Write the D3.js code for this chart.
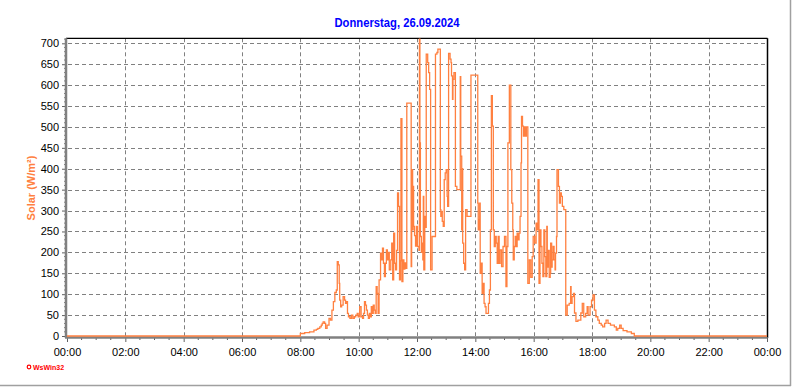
<!DOCTYPE html>
<html>
<head>
<meta charset="utf-8">
<script src="https://cdn.jsdelivr.net/npm/d3@7"></script>
<style>
  body { margin: 0; background: #fff; }
  svg { display: block; }
  text { font-family: Arial, "Liberation Sans", sans-serif; }
</style>
</head>
<body>
<svg id="chart" width="792" height="387"></svg>
<script>
// Solar radiation, 26.09.2024 (times as HH:MM, values in W/m²)
const times = [
  "00:00","07:59","08:00","08:09","08:19","08:26","08:28","08:33","08:36","08:40",
  "08:43","08:45","08:47","08:50","08:52","08:55","08:59","09:02","09:05","09:08",
  "09:11","09:14","09:16","09:18","09:20","09:21","09:23","09:25","09:28","09:31",
  "09:33","09:35","09:37","09:39","09:42","09:45","09:48","09:51","09:54","09:57",
  "09:59","10:02","10:05","10:08","10:10","10:12","10:14","10:16","10:18","10:20",
  "10:22","10:24","10:26","10:28","10:30","10:32","10:34","10:36","10:38","10:40",
  "10:42","10:45","10:47","10:49","10:51","10:53","10:55","10:57","10:59","11:01",
  "11:03","11:06","11:08","11:10","11:12","11:14","11:16","11:18","11:20","11:22",
  "11:24","11:26","11:27","11:29","11:31","11:33","11:35","11:37","11:39","11:47",
  "11:48","11:49","11:51","11:52","11:53","11:55","11:57","11:59","12:01","12:04",
  "12:05","12:06","12:07","12:09","12:11","12:12","12:13","12:14","12:16","12:18",
  "12:19","12:22","12:24","12:26","12:28","12:31","12:37","12:38","12:41","12:43",
  "12:47","12:48","12:49","12:50","12:52","12:54","12:56","12:58","13:00","13:02",
  "13:03","13:05","13:08","13:10","13:11","13:13","13:14","13:16","13:19","13:22",
  "13:27","13:29","13:30","13:32","13:33","13:34","13:36","13:38","13:40","13:43",
  "13:50","13:51","14:04","14:05","14:06","14:08","14:09","14:10","14:12","14:14",
  "14:16","14:18","14:20","14:22","14:25","14:27","14:29","14:31","14:33","14:35",
  "14:37","14:39","14:41","14:43","14:45","14:47","14:49","14:51","14:54","14:57",
  "15:00","15:03","15:05","15:07","15:10","15:12","15:13","15:15","15:17","15:18",
  "15:20","15:22","15:24","15:26","15:28","15:30","15:32","15:34","15:35","15:37",
  "15:39","15:41","15:43","15:45","15:47","15:48","15:51","15:54","15:57","15:59",
  "16:02","16:05","16:07","16:09","16:11","16:13","16:15","16:17","16:19","16:21",
  "16:23","16:25","16:27","16:28","16:30","16:32","16:34","16:35","16:37","16:38",
  "16:40","16:42","16:44","16:45","16:47","16:48","16:51","16:53","16:55","16:57",
  "16:59","17:02","17:05","17:06","17:09","17:13","17:16","17:17","17:19","17:22",
  "17:24","17:27","17:31","17:37","17:40","17:43","17:47","17:50","17:52","17:56",
  "17:59","18:02","18:05","18:08","18:12","18:15","18:19","18:22","18:26","18:29",
  "18:33","18:38","18:46","18:50","18:53","18:57","19:00","19:04","19:12","19:21",
  "19:27","24:00"
]
const solar = [
  0,0,6,8,10,10,14,16,18,22,
  26,30,34,30,18,26,42,38,62,82,
  104,110,178,170,126,86,70,74,94,86,
  78,82,54,46,42,50,42,46,50,54,
  46,70,46,42,54,82,74,62,50,42,
  54,46,70,54,74,62,54,118,102,54,
  134,198,182,210,174,142,174,206,182,200,
  158,182,222,134,246,174,158,205,342,310,
  134,180,520,130,182,160,175,162,557,557,
  166,398,254,358,262,240,215,262,214,205,
  710,462,238,200,222,182,334,158,286,260,
  674,654,630,590,158,238,238,674,678,686,
  686,302,286,298,274,262,374,390,398,334,
  310,676,662,654,622,566,614,630,358,350,
  350,620,430,254,400,222,174,158,302,286,
  286,624,624,318,254,278,318,150,174,102,
  126,78,70,54,54,78,110,254,575,502,
  254,214,238,222,174,238,174,206,166,214,
  238,118,214,462,600,600,398,318,254,182,
  214,238,214,246,230,246,286,414,525,502,
  478,500,478,500,500,126,182,140,190,238,
  222,270,254,374,126,254,214,174,142,254,
  190,142,262,165,205,140,150,222,165,182,
  214,182,158,198,238,398,358,318,342,334,
  310,302,302,50,74,78,118,78,94,102,
  55,35,38,55,78,46,54,70,50,70,
  86,98,62,46,38,30,26,22,30,38,
  30,26,22,14,18,26,18,13,10,6,
  0,0
]
const yTicks = [0,50,100,150,200,250,300,350,400,450,500,550,600,650,700]
const xTickLabels = ["00:00","02:00","04:00","06:00","08:00","10:00","12:00",
                     "14:00","16:00","18:00","20:00","22:00","00:00"]

const toMin = (s) => { const p = s.split(":"); return +p[0] * 60 + +p[1] }
const data = times.map((t, i) => ({ t: toMin(t), v: solar[i] }))

const svg = d3.select("#chart")
const x = d3.scaleLinear().domain([0, 1440]).range([67, 767])
const y = d3.scaleLinear().domain([0, 700]).range([336, 43.3])
const yTop = y(712)

// outer frame (right and bottom edge)
svg.append("line").attr("x1", 790.5).attr("x2", 790.5).attr("y1", 0).attr("y2", 386)
  .attr("stroke", "#a0a0a0").attr("stroke-width", 1.5)
svg.append("line").attr("x1", 0).attr("x2", 791).attr("y1", 385.5).attr("y2", 385.5)
  .attr("stroke", "#a0a0a0").attr("stroke-width", 1.5)

// grid
const grid = svg.append("g").attr("stroke", "#808080").attr("stroke-dasharray", "4,3")
grid.selectAll(".hg").data(yTicks.slice(1)).enter().append("line")
  .attr("x1", 68).attr("x2", 767)
  .attr("y1", (d) => Math.round(y(d)) + 0.5).attr("y2", (d) => Math.round(y(d)) + 0.5)
grid.selectAll(".vg").data(d3.range(120, 1440, 120)).enter().append("line")
  .attr("y1", yTop).attr("y2", 336)
  .attr("x1", (d) => Math.round(x(d)) + 0.5).attr("x2", (d) => Math.round(x(d)) + 0.5)

// top and right border
svg.append("line").attr("x1", 66).attr("x2", 767.5).attr("y1", yTop).attr("y2", yTop)
  .attr("stroke", "#000").attr("stroke-width", 1.2)
svg.append("line").attr("x1", 767.5).attr("x2", 767.5).attr("y1", yTop).attr("y2", 338)
  .attr("stroke", "#000").attr("stroke-width", 1.5)

// x axis
const xAxis = svg.append("g").attr("transform", "translate(0,337)")
  .call(d3.axisBottom(x).tickValues(d3.range(0, 1441, 120))
    .tickFormat((d, i) => xTickLabels[i]).tickSize(5).tickPadding(6))
xAxis.select(".domain").remove()
xAxis.selectAll(".tick line").attr("stroke", "#606060")
xAxis.selectAll("text").attr("font-size", 11).attr("fill", "#000")
xAxis.selectAll(".minor").data(d3.range(30, 1440, 30).filter((d) => d % 120 !== 0))
  .enter().append("line").attr("class", "minor")
  .attr("x1", (d) => x(d)).attr("x2", (d) => x(d)).attr("y1", 0).attr("y2", 3)
  .attr("stroke", "#606060")
svg.append("line").attr("x1", 65).attr("x2", 767).attr("y1", 337.5).attr("y2", 337.5)
  .attr("stroke", "#808080").attr("stroke-width", 2.5)

// y axis
const yAxis = svg.append("g").attr("transform", "translate(66,0)")
  .call(d3.axisLeft(y).tickValues(yTicks).tickSize(4).tickPadding(3))
yAxis.select(".domain").remove()
yAxis.selectAll(".tick line").attr("stroke", "#606060")
yAxis.selectAll("text").attr("font-size", 11).attr("fill", "#000")
yAxis.selectAll(".minor").data(d3.range(10, 711, 10).filter((d) => d % 50 !== 0))
  .enter().append("line").attr("class", "minor")
  .attr("y1", (d) => y(d)).attr("y2", (d) => y(d)).attr("x1", 0).attr("x2", -2)
  .attr("stroke", "#808080")
svg.append("line").attr("x1", 66).attr("x2", 66).attr("y1", yTop).attr("y2", 338)
  .attr("stroke", "#808080").attr("stroke-width", 2.5)

// series
const line = d3.line().x((d) => x(d.t)).y((d) => y(d.v)).curve(d3.curveStepAfter)
svg.append("path").datum(data).attr("d", line)
  .attr("fill", "none").attr("stroke", "#ff8040").attr("stroke-width", 1.3)

// title and labels
svg.append("text").attr("x", 397).attr("y", 27).attr("text-anchor", "middle")
  .attr("font-size", 12).attr("font-weight", "bold").attr("fill", "#0000ff")
  .style("font-family", "'Liberation Sans Narrow', 'Arial Narrow', sans-serif")
  .attr("textLength", 125).attr("lengthAdjust", "spacingAndGlyphs")
  .text("Donnerstag, 26.09.2024")

svg.append("text").attr("transform", "translate(35,188) rotate(-90)")
  .attr("text-anchor", "middle").attr("font-size", 11).attr("font-weight", "bold")
  .attr("fill", "#ff8040").text("Solar (W/m²)")

svg.append("circle").attr("cx", 29).attr("cy", 367).attr("r", 1.8)
  .attr("fill", "none").attr("stroke", "#ff0000").attr("stroke-width", 1.2)
svg.append("text").attr("x", 33).attr("y", 370).attr("font-size", 7)
  .attr("font-weight", "bold").attr("fill", "#ff0000").text("WsWin32")
</script>
</body>
</html>
